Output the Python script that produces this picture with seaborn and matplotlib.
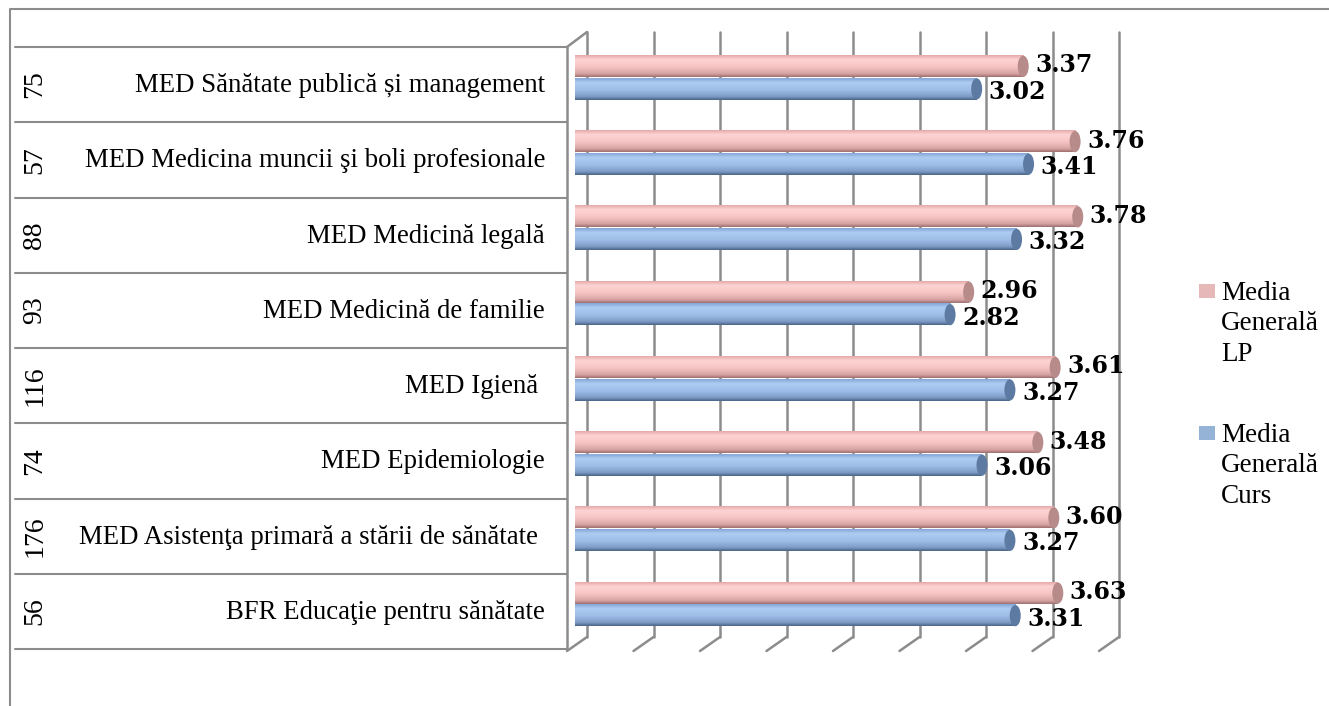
import numpy as np
import pandas as pd
import matplotlib
matplotlib.use("Agg")
import matplotlib.pyplot as plt
import seaborn as sns
from matplotlib.colors import LinearSegmentedColormap
from matplotlib.patches import Ellipse, Rectangle

# data (top to bottom)
courses = [
    "MED Sănătate publică și management",
    "MED Medicina muncii şi boli profesionale",
    "MED Medicină legală",
    "MED Medicină de familie",
    "MED Igienă ",
    "MED Epidemiologie",
    "MED Asistenţa primară a stării de sănătate ",
    "BFR Educaţie pentru sănătate",
]
counts = [75, 57, 88, 93, 116, 74, 176, 56]
media_lp = [3.37, 3.76, 3.78, 2.96, 3.61, 3.48, 3.60, 3.63]
media_curs = [3.02, 3.41, 3.32, 2.82, 3.27, 3.06, 3.27, 3.31]
series = ["Media Generală LP", "Media Generală Curs"]
legend_labels = ["Media\nGenerală\nLP", "Media\nGenerală\nCurs"]

df = pd.concat([
    pd.DataFrame({"course": courses, "series": series[0], "value": media_lp}),
    pd.DataFrame({"course": courses, "series": series[1], "value": media_curs}),
])

W, H = 1329, 706
sns.set_theme(style="white")
plt.rcParams["font.family"] = ["Liberation Serif", "DejaVu Serif"]

fig = plt.figure(figsize=(W / 100, H / 100), dpi=100)
fig.patch.set_facecolor("white")

# pixel-space axes for the frame, table and 3D walls
bg = fig.add_axes([0, 0, 1, 1], zorder=0)
bg.set_xlim(0, W)
bg.set_ylim(H, 0)
bg.axis("off")

line_c = "#8C8C8C"
bg.plot([10, 10, W], [H, 9, 9], color=line_c, lw=1.5)

row_top, row_h = 47, 75.25
n = len(courses)
for i in range(n + 1):
    y = row_top + row_h * i
    bg.plot([15, 567], [y, y], color=line_c, lw=1.5)
bg.plot([567, 567], [row_top, row_top + row_h * n], color=line_c, lw=1.8)

for i, (c, k) in enumerate(zip(courses, counts)):
    yc = row_top + row_h * (i + 0.5)
    bg.text(545, yc + 1, c, ha="right", va="center", fontsize=19.3, color="black")
    bg.text(35, yc, str(k), ha="center", va="center", rotation=90,
            fontsize=20, color="black")

# bar axes: value 0 at x=575, 133 px per unit
x0_px, unit = 575, 133
xmax = 4.0
ax = fig.add_axes([x0_px / W, 1 - (row_top - 7 + row_h * n) / H,
                   unit * xmax / W, row_h * n / H], zorder=2)
ax.patch.set_alpha(0)

# back wall gridlines and floor diagonals
for v in np.arange(0, xmax + 0.01, 0.5):
    xb = x0_px + unit * v + 12
    bg.plot([xb, xb], [32, 637], color=line_c, lw=1.8)
    bg.plot([xb, xb - 20], [637, 651], color=line_c, lw=1.8)
bg.plot([567, 587], [row_top, 32], color=line_c, lw=1.8)

pal = {series[0]: "#F7C4C4", series[1]: "#A3C1EA"}
sns.barplot(data=df, x="value", y="course", hue="series", hue_order=series,
            palette=pal, orient="h", width=0.6, gap=0.06, saturation=1,
            legend=False, ax=ax)

cmaps = [
    LinearSegmentedColormap.from_list("p", [(0, "#E4AAAA"), (0.2, "#FFD4D4"),
                                            (0.55, "#F6C3C3"), (0.85, "#D7A3A3"),
                                            (1, "#9E7070")]),
    LinearSegmentedColormap.from_list("b", [(0, "#86A6D6"), (0.2, "#ADCDF4"),
                                            (0.55, "#9DBDE8"), (0.85, "#7C9AC4"),
                                            (1, "#4B6488")]),
]
caps = ["#B88B8B", "#5D7BA2"]
ends = ["#EDB9B9", "#93B2DE"]
dys = [1, -3]
grad = np.linspace(0, 1, 64).reshape(-1, 1)
cap_w = 11 / unit

for cont, cm, cap, endc, dy in zip(ax.containers, cmaps, caps, ends, dys):
    for bar in cont:
        bx, by = bar.get_x(), bar.get_y()
        bw, bh = bar.get_width(), bar.get_height()
        bar.set_facecolor("none")
        bar.set_edgecolor("none")
        ax.imshow(grad, extent=[bx, bx + bw, by + bh, by], origin="upper",
                  aspect="auto", cmap=cm, interpolation="bilinear", zorder=2)
        ax.add_patch(Ellipse((bx, by + bh / 2), cap_w, bh, facecolor=endc,
                             edgecolor="none", zorder=1.9))
        ax.add_patch(Ellipse((bx + bw, by + bh / 2), cap_w, bh, facecolor=cap,
                             edgecolor="none", zorder=2.1))
        ax.annotate(f"{bw:.2f}", xy=(bx + bw, by + bh / 2),
                    xytext=(12, dy), textcoords="offset pixels",
                    ha="left", va="center", fontsize=17, fontweight="bold",
                    family="DejaVu Serif", color="black", zorder=3,
                    annotation_clip=False)

ax.set_xlim(0, xmax)
ax.set_ylim(n - 0.5, -0.5)
ax.axis("off")

# legend (y = baseline of the last line; square sits by the first line)
leg_cols = ["#E6B9B8", "#95B3D7"]
for lab, col, yb in zip(legend_labels, leg_cols, [361, 503]):
    bg.add_patch(Rectangle((1199, yb - 62 - 15), 16, 14, facecolor=col,
                           edgecolor="none"))
    bg.text(1221, yb, lab, ha="left", va="baseline", fontsize=19.5,
            linespacing=1.3, color="black")

fig.savefig("out.png", dpi=100)
